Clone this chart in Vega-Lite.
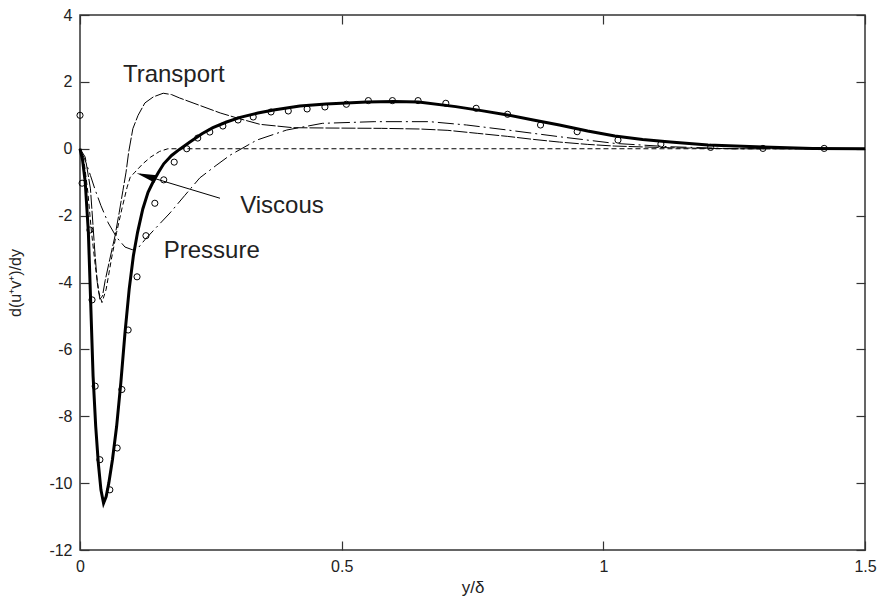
{
  "$schema": "https://vega.github.io/schema/vega-lite/v6.json",
  "width": 785,
  "height": 535,
  "autosize": "none",
  "padding": {"left": 80, "top": 15, "right": 18, "bottom": 62},
  "background": "white",
  "config": {
    "view": {"stroke": "#333", "strokeWidth": 1.5},
    "font": "Liberation Sans"
  },
  "datasets": {
    "total": [
      {"x": 0, "y": 0}, {"x": 0.005, "y": -0.35}, {"x": 0.01, "y": -1.0}, {"x": 0.016, "y": -2.5}, {"x": 0.02, "y": -4.4},
      {"x": 0.025, "y": -6.8}, {"x": 0.03, "y": -8.3}, {"x": 0.035, "y": -9.4}, {"x": 0.04, "y": -10.2}, {"x": 0.045, "y": -10.6},
      {"x": 0.05, "y": -10.4}, {"x": 0.055, "y": -10.0}, {"x": 0.062, "y": -9.3}, {"x": 0.07, "y": -8.3}, {"x": 0.078, "y": -7.0},
      {"x": 0.086, "y": -5.5}, {"x": 0.094, "y": -4.2}, {"x": 0.102, "y": -3.2}, {"x": 0.11, "y": -2.5}, {"x": 0.12, "y": -1.8},
      {"x": 0.13, "y": -1.3}, {"x": 0.14, "y": -0.98}, {"x": 0.15, "y": -0.7}, {"x": 0.16, "y": -0.45}, {"x": 0.175, "y": -0.2},
      {"x": 0.19, "y": -0.02}, {"x": 0.21, "y": 0.2}, {"x": 0.233, "y": 0.45}, {"x": 0.254, "y": 0.63}, {"x": 0.28, "y": 0.8},
      {"x": 0.306, "y": 0.94}, {"x": 0.34, "y": 1.07}, {"x": 0.37, "y": 1.16}, {"x": 0.42, "y": 1.28}, {"x": 0.47, "y": 1.34},
      {"x": 0.548, "y": 1.4}, {"x": 0.6, "y": 1.41}, {"x": 0.647, "y": 1.4}, {"x": 0.718, "y": 1.26}, {"x": 0.767, "y": 1.14},
      {"x": 0.817, "y": 1.01}, {"x": 0.866, "y": 0.86}, {"x": 0.916, "y": 0.71}, {"x": 0.97, "y": 0.53}, {"x": 1.022, "y": 0.38},
      {"x": 1.075, "y": 0.28}, {"x": 1.128, "y": 0.2}, {"x": 1.2, "y": 0.11}, {"x": 1.305, "y": 0.05}, {"x": 1.4, "y": 0.01},
      {"x": 1.5, "y": 0}
    ],
    "obs": [
      {"x": 0, "y": 1.0}, {"x": 0.004, "y": -1.03}, {"x": 0.019, "y": -2.43}, {"x": 0.023, "y": -4.52}, {"x": 0.029, "y": -7.1},
      {"x": 0.038, "y": -9.3}, {"x": 0.057, "y": -10.2}, {"x": 0.071, "y": -8.95}, {"x": 0.08, "y": -7.2}, {"x": 0.092, "y": -5.42},
      {"x": 0.109, "y": -3.83}, {"x": 0.126, "y": -2.6}, {"x": 0.143, "y": -1.63}, {"x": 0.16, "y": -0.93}, {"x": 0.18, "y": -0.4},
      {"x": 0.204, "y": 0.0}, {"x": 0.225, "y": 0.32}, {"x": 0.248, "y": 0.5}, {"x": 0.273, "y": 0.68}, {"x": 0.302, "y": 0.86},
      {"x": 0.331, "y": 0.95}, {"x": 0.365, "y": 1.1}, {"x": 0.398, "y": 1.13}, {"x": 0.434, "y": 1.19}, {"x": 0.468, "y": 1.25},
      {"x": 0.509, "y": 1.33}, {"x": 0.551, "y": 1.44}, {"x": 0.597, "y": 1.44}, {"x": 0.646, "y": 1.44}, {"x": 0.699, "y": 1.36},
      {"x": 0.757, "y": 1.21}, {"x": 0.817, "y": 1.03}, {"x": 0.88, "y": 0.71}, {"x": 0.95, "y": 0.51}, {"x": 1.028, "y": 0.26},
      {"x": 1.11, "y": 0.14}, {"x": 1.205, "y": 0.04}, {"x": 1.305, "y": 0.01}, {"x": 1.422, "y": 0.01}
    ],
    "terms": [
      {"term": "Transport", "x": 0, "y": 0}, {"term": "Transport", "x": 0.01, "y": -0.25}, {"term": "Transport", "x": 0.02, "y": -1.2},
      {"term": "Transport", "x": 0.028, "y": -3.0}, {"term": "Transport", "x": 0.033, "y": -4.0}, {"term": "Transport", "x": 0.038, "y": -4.5},
      {"term": "Transport", "x": 0.043, "y": -4.4}, {"term": "Transport", "x": 0.048, "y": -3.95}, {"term": "Transport", "x": 0.057, "y": -3.3},
      {"term": "Transport", "x": 0.067, "y": -2.6}, {"term": "Transport", "x": 0.075, "y": -1.9}, {"term": "Transport", "x": 0.082, "y": -1.25},
      {"term": "Transport", "x": 0.088, "y": -0.7}, {"term": "Transport", "x": 0.093, "y": -0.1}, {"term": "Transport", "x": 0.101, "y": 0.6},
      {"term": "Transport", "x": 0.111, "y": 1.0}, {"term": "Transport", "x": 0.124, "y": 1.37}, {"term": "Transport", "x": 0.14, "y": 1.55},
      {"term": "Transport", "x": 0.159, "y": 1.66}, {"term": "Transport", "x": 0.175, "y": 1.62}, {"term": "Transport", "x": 0.19, "y": 1.52},
      {"term": "Transport", "x": 0.216, "y": 1.37}, {"term": "Transport", "x": 0.268, "y": 1.07}, {"term": "Transport", "x": 0.3, "y": 0.92},
      {"term": "Transport", "x": 0.344, "y": 0.73}, {"term": "Transport", "x": 0.407, "y": 0.63}, {"term": "Transport", "x": 0.472, "y": 0.62},
      {"term": "Transport", "x": 0.576, "y": 0.61}, {"term": "Transport", "x": 0.65, "y": 0.59}, {"term": "Transport", "x": 0.703, "y": 0.55},
      {"term": "Transport", "x": 0.76, "y": 0.46}, {"term": "Transport", "x": 0.817, "y": 0.37}, {"term": "Transport", "x": 0.866, "y": 0.28},
      {"term": "Transport", "x": 0.916, "y": 0.2}, {"term": "Transport", "x": 0.97, "y": 0.13}, {"term": "Transport", "x": 1.022, "y": 0.08},
      {"term": "Transport", "x": 1.127, "y": 0.03}, {"term": "Transport", "x": 1.25, "y": 0.0}, {"term": "Transport", "x": 1.5, "y": 0.0},
      {"term": "Viscous", "x": 0, "y": 0}, {"term": "Viscous", "x": 0.008, "y": -0.4}, {"term": "Viscous", "x": 0.015, "y": -1.3},
      {"term": "Viscous", "x": 0.022, "y": -2.5}, {"term": "Viscous", "x": 0.03, "y": -3.6}, {"term": "Viscous", "x": 0.036, "y": -4.3},
      {"term": "Viscous", "x": 0.042, "y": -4.6}, {"term": "Viscous", "x": 0.05, "y": -4.2}, {"term": "Viscous", "x": 0.06, "y": -3.3},
      {"term": "Viscous", "x": 0.07, "y": -2.5}, {"term": "Viscous", "x": 0.08, "y": -1.8}, {"term": "Viscous", "x": 0.09, "y": -1.15},
      {"term": "Viscous", "x": 0.096, "y": -0.85}, {"term": "Viscous", "x": 0.105, "y": -0.7}, {"term": "Viscous", "x": 0.12, "y": -0.45},
      {"term": "Viscous", "x": 0.135, "y": -0.25}, {"term": "Viscous", "x": 0.152, "y": -0.08}, {"term": "Viscous", "x": 0.168, "y": 0.0},
      {"term": "Viscous", "x": 1.5, "y": 0.0},
      {"term": "Pressure", "x": 0, "y": 0}, {"term": "Pressure", "x": 0.01, "y": -0.35}, {"term": "Pressure", "x": 0.02, "y": -0.8},
      {"term": "Pressure", "x": 0.029, "y": -1.23}, {"term": "Pressure", "x": 0.04, "y": -1.7}, {"term": "Pressure", "x": 0.054, "y": -2.22},
      {"term": "Pressure", "x": 0.07, "y": -2.65}, {"term": "Pressure", "x": 0.086, "y": -2.94}, {"term": "Pressure", "x": 0.1, "y": -3.02},
      {"term": "Pressure", "x": 0.112, "y": -2.95}, {"term": "Pressure", "x": 0.124, "y": -2.72}, {"term": "Pressure", "x": 0.14, "y": -2.45},
      {"term": "Pressure", "x": 0.172, "y": -1.92}, {"term": "Pressure", "x": 0.2, "y": -1.4}, {"term": "Pressure", "x": 0.229, "y": -0.87},
      {"term": "Pressure", "x": 0.26, "y": -0.5}, {"term": "Pressure", "x": 0.287, "y": -0.19}, {"term": "Pressure", "x": 0.338, "y": 0.26},
      {"term": "Pressure", "x": 0.395, "y": 0.56}, {"term": "Pressure", "x": 0.463, "y": 0.76}, {"term": "Pressure", "x": 0.562, "y": 0.81},
      {"term": "Pressure", "x": 0.668, "y": 0.81}, {"term": "Pressure", "x": 0.739, "y": 0.71}, {"term": "Pressure", "x": 0.817, "y": 0.56},
      {"term": "Pressure", "x": 0.916, "y": 0.36}, {"term": "Pressure", "x": 1.022, "y": 0.16}, {"term": "Pressure", "x": 1.127, "y": 0.06},
      {"term": "Pressure", "x": 1.25, "y": 0.0}, {"term": "Pressure", "x": 1.5, "y": 0.0}
    ],
    "labels": [
      {"label": "Transport", "x": 0.082, "y": 2.0},
      {"label": "Viscous", "x": 0.306, "y": -1.92},
      {"label": "Pressure", "x": 0.16, "y": -3.27}
    ],
    "arrow": [
      {"x": 0.115, "y": -0.76},
      {"x": 0.2675, "y": -1.48}
    ],
    "head": [
      {"x": 0.1267, "y": -0.82}
    ]
  },
  "layer": [
    {
      "data": {"name": "terms"},
      "mark": {"type": "line", "color": "black", "strokeWidth": 1},
      "encoding": {
        "x": {"field": "x", "type": "quantitative", "scale": {"domain": [0, 1.5], "nice": false, "zero": false},
              "axis": {"orient": "bottom", "values": [0, 0.5, 1, 1.5], "labelExpr": "'' + datum.value", "grid": false, "domain": false, "tickColor": "#333", "tickWidth": 1.2, "tickSize": -9, "labelPadding": 17, "labelFont": "Liberation Sans", "labelFontSize": 16, "labelColor": "#222", "labelFlush": false, "labelOverlap": false, "title": "y/δ", "titleFont": "Liberation Sans", "titleFontSize": 17, "titleFontWeight": "normal", "titleColor": "#222", "titlePadding": 5}},
        "y": {"field": "y", "type": "quantitative", "scale": {"domain": [-12, 4], "nice": false, "zero": false},
              "axis": {"orient": "left", "values": [-12, -10, -8, -6, -4, -2, 0, 2, 4], "labelExpr": "'' + datum.value", "grid": false, "domain": false, "tickColor": "#333", "tickWidth": 1.2, "tickSize": -9, "labelPadding": 17, "labelFont": "Liberation Sans", "labelFontSize": 16, "labelColor": "#222", "labelFlush": false, "labelOverlap": false, "title": "d(u⁺v⁺)/dy", "titleFont": "Liberation Sans", "titleFontSize": 16, "titleFontWeight": "normal", "titleColor": "#222", "titlePadding": 25}},
        "strokeDash": {"field": "term", "type": "nominal", "scale": {"domain": ["Transport", "Viscous", "Pressure"], "range": [[14, 2], [5, 3], [16, 4, 2, 4]]}, "legend": null}
      }
    },
    {
      "data": {"name": "total"},
      "mark": {"type": "line", "color": "black", "strokeWidth": 3},
      "encoding": {
        "x": {"field": "x", "type": "quantitative", "axis": null},
        "y": {"field": "y", "type": "quantitative", "axis": null}
      }
    },
    {
      "data": {"name": "obs"},
      "mark": {"type": "point", "shape": "circle", "filled": false, "color": "black", "strokeWidth": 1, "size": 38, "opacity": 1},
      "encoding": {
        "x": {"field": "x", "type": "quantitative", "axis": null},
        "y": {"field": "y", "type": "quantitative", "axis": null}
      }
    },
    {
      "data": {"name": "labels"},
      "mark": {"type": "text", "align": "left", "baseline": "alphabetic", "fontSize": 24, "font": "Liberation Sans", "color": "#222"},
      "encoding": {
        "x": {"field": "x", "type": "quantitative", "axis": null},
        "y": {"field": "y", "type": "quantitative", "axis": null},
        "text": {"field": "label"}
      }
    },
    {
      "data": {"name": "arrow"},
      "mark": {"type": "line", "color": "black", "strokeWidth": 1},
      "encoding": {
        "x": {"field": "x", "type": "quantitative", "axis": {"orient": "top", "values": [0, 0.5, 1, 1.5], "labels": false, "title": null, "grid": false, "domain": false, "tickColor": "#333", "tickWidth": 1.2, "tickSize": -9}},
        "y": {"field": "y", "type": "quantitative", "axis": {"orient": "right", "values": [-12, -10, -8, -6, -4, -2, 0, 2, 4], "labels": false, "title": null, "grid": false, "domain": false, "tickColor": "#333", "tickWidth": 1.2, "tickSize": -9}}
      }
    },
    {
      "data": {"name": "head"},
      "mark": {"type": "point", "shape": "M -1 0 L 1 -0.4 L 1 0.4 Z", "size": 400, "angle": 16.7, "filled": true, "color": "black", "opacity": 1},
      "encoding": {
        "x": {"field": "x", "type": "quantitative", "axis": null},
        "y": {"field": "y", "type": "quantitative", "axis": null}
      }
    }
  ],
  "resolve": {"axis": {"x": "independent", "y": "independent"}}
}
